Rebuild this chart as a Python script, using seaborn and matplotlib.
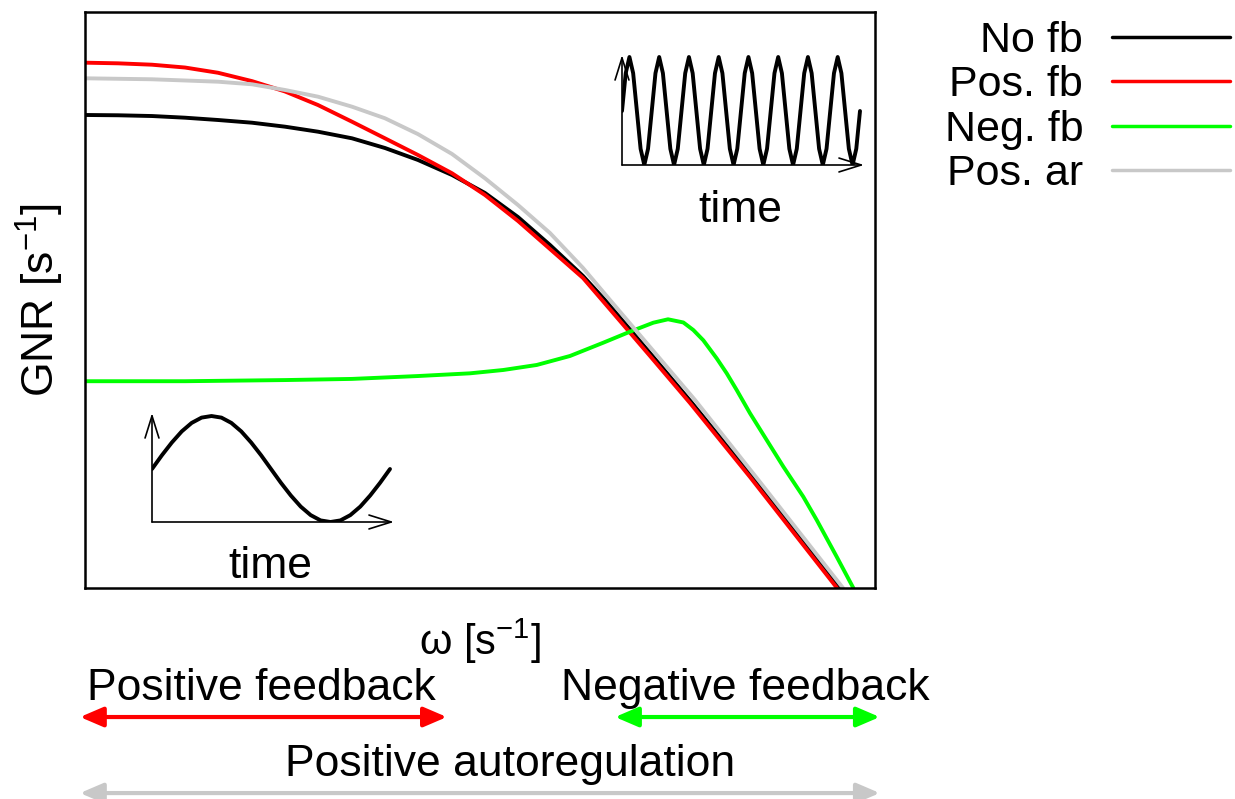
import numpy as np
import pandas as pd
import matplotlib
matplotlib.use('Agg')
import matplotlib.pyplot as plt
import seaborn as sns

# main panel: log(omega) and log(GNR), both rescaled to 0-100 (no ticks in the figure)
x_nofb = [0, 4.18, 8.48, 12.66, 16.84, 21.14, 25.32, 29.49, 33.80, 37.97, 42.15, 46.46,
          50.63, 54.81, 58.86, 63.04, 65.82, 71.52, 76.84, 84.18, 95.57]
y_nofb = [82.12, 82.07, 81.94, 81.65, 81.25, 80.78, 80.09, 79.22, 78.07, 76.39, 74.31, 71.70,
          68.58, 64.4, 59.55, 54.17, 50.0, 40.80, 32.12, 19.79, 0.0]

x_posfb = [0, 4.18, 8.48, 12.66, 16.84, 21.14, 25.32, 29.49, 33.80, 37.97, 42.15, 46.46,
           50.63, 54.81, 58.86, 63.04, 65.44, 71.52, 76.58, 84.18, 95.19]
y_posfb = [91.2, 91.09, 90.85, 90.36, 89.45, 88.0, 86.2, 83.85, 80.95, 78.07, 75.17, 72.0,
           68.23, 63.72, 58.85, 53.82, 50.0, 40.28, 32.12, 19.27, 0.0]

x_negfb = [0, 12.66, 25.32, 33.8, 42.15, 48.73, 52.95, 57.18, 61.39, 65.61, 68.99, 71.94,
           73.8, 75.74, 77.0, 78.27, 79.96, 81.23, 82.49, 84.18, 86.29, 88.40, 90.92, 92.62,
           95.15, 97.26]
y_negfb = [35.9, 35.9, 36.1, 36.3, 36.8, 37.27, 37.85, 38.72, 40.28, 42.59, 44.5, 46.06,
           46.65, 46.1, 44.79, 43.0, 39.87, 37.27, 34.38, 30.33, 25.69, 21.06, 15.85, 11.81,
           5.43, 0.0]

x_posar = [0, 8.48, 16.84, 21.14, 25.32, 29.49, 33.80, 37.97, 42.15, 46.46, 50.63, 54.81,
           58.86, 63.04, 66.46, 71.52, 77.22, 85.44, 95.95]
y_posar = [88.49, 88.32, 87.9, 87.45, 86.46, 85.3, 83.56, 81.55, 78.8, 75.35, 71.13, 66.49,
           61.63, 55.56, 50.0, 41.84, 32.64, 18.40, 0.0]

series = ['No fb', 'Pos. fb', 'Neg. fb', 'Pos. ar']
colors = ['#000000', '#ff0000', '#00ff00', '#c8c8c8']

# small sketches of the oscillations (one slow period, eight fast periods)
slow_wave = [0, .26, .5, .71, .87, .97, 1, .97, .87, .71, .5, .26, 0,
             -.26, -.5, -.71, -.87, -.97, -1, -.97, -.87, -.71, -.5, -.26, 0]
fast_wave = [0, .7, 1, .7, 0, -.7, -1, -.7] * 8 + [0]

# regions marked under the x axis (same units as x above)
regions = ['Positive feedback', 'Negative feedback', 'Positive autoregulation']
region_start = [-0.63, 67.1, -0.63]
region_end = [45.8, 100.6, 100.6]
region_label_x = [22.28, 83.54, 53.8]
region_colors = ['#ff0000', '#00ff00', '#c8c8c8']

df = pd.concat([
    pd.DataFrame({'x': x_nofb, 'y': y_nofb, 'series': 'No fb'}),
    pd.DataFrame({'x': x_posfb, 'y': y_posfb, 'series': 'Pos. fb'}),
    pd.DataFrame({'x': x_negfb, 'y': y_negfb, 'series': 'Neg. fb'}),
    pd.DataFrame({'x': x_posar, 'y': y_posar, 'series': 'Pos. ar'}),
], ignore_index=True)

sns.set_style('white')
plt.rcParams['font.family'] = ['Liberation Sans', 'DejaVu Sans']
plt.rcParams['mathtext.default'] = 'regular'
plt.rcParams['text.color'] = 'black'
plt.rcParams['axes.labelcolor'] = 'black'

W, H = 1235, 799
fig = plt.figure(figsize=(W / 100, H / 100), dpi=100)

def fig_box(left, top, right, bottom):
    return [left / W, 1 - bottom / H, (right - left) / W, (bottom - top) / H]

ax = fig.add_axes(fig_box(85, 12, 875, 588))
sns.lineplot(data=df, x='x', y='y', hue='series', hue_order=series,
             palette=dict(zip(series, colors)), sort=False, estimator=None,
             lw=2.8, ax=ax)
ax.set_xlim(0, 100)
ax.set_ylim(0, 100)
ax.set_xticks([])
ax.set_yticks([])
for s in ax.spines.values():
    s.set_color('black')
    s.set_linewidth(1.8)

ax.set_xlabel('ω [s$^{-1}$]', fontsize=30)
ax.xaxis.set_label_coords(0.5, -0.05)
ax.set_ylabel('GNR [s$^{-1}$]', fontsize=32)
ax.yaxis.set_label_coords(-0.024, 0.5)

handles, labels = ax.get_legend_handles_labels()
leg = ax.legend(handles, labels, loc='upper right',
                bbox_to_anchor=(1230 / W, 1 - 21 / H), bbox_transform=fig.transFigure,
                frameon=False, markerfirst=False, fontsize=31,
                handlelength=2.74, handletextpad=0.67, labelspacing=0.1,
                borderpad=0, borderaxespad=0)
for line in leg.get_lines():
    line.set_linewidth(2.5)

# arrows under the axis marking where each mechanism matters
xt = ax.get_xaxis_transform()
text_y = [-0.174, -0.174, -0.307]
arrow_y = [-0.224, -0.224, -0.356]
for name, x0, x1, lx, c, ty, ay in zip(regions, region_start, region_end, region_label_x,
                                        region_colors, text_y, arrow_y):
    ax.annotate('', xy=(x1, ay), xytext=(x0, ay), xycoords=xt, annotation_clip=False,
                arrowprops=dict(arrowstyle='<|-|>,head_length=0.7,head_width=0.3',
                                color=c, lw=3, mutation_scale=20, shrinkA=0, shrinkB=0))
    ax.text(lx, ty, name, transform=xt, ha='center', va='center', fontsize=32)

# inset sketches
def sketch(box, wave, periods, top, label_xy):
    a = fig.add_axes(box)
    t = np.arange(len(wave)) / (len(wave) - 1) * periods
    sns.lineplot(x=t, y=wave, color='black', lw=2.8, ax=a, sort=False, estimator=None)
    xmax = periods * 242 / 238
    a.set_xlim(0, xmax)
    a.set_ylim(-1, top)
    a.axis('off')
    ap = dict(arrowstyle='->,head_length=0.8,head_width=0.25', color='black', lw=1.2,
              mutation_scale=20, shrinkA=0, shrinkB=0)
    a.annotate('', xy=(xmax, -1), xytext=(0, -1), arrowprops=ap, annotation_clip=False)
    a.annotate('', xy=(0, top), xytext=(0, -1), arrowprops=ap, annotation_clip=False)
    fig.text(label_xy[0] / W, 1 - label_xy[1] / H, 'time', ha='center', va='center', fontsize=32)

sketch(fig_box(152, 413, 394, 522), slow_wave, 1, 1.057, (270, 566))
sketch(fig_box(622, 55, 864, 165), fast_wave, 8, 1.037, (740, 210))

plt.savefig('out.png', dpi=100)
